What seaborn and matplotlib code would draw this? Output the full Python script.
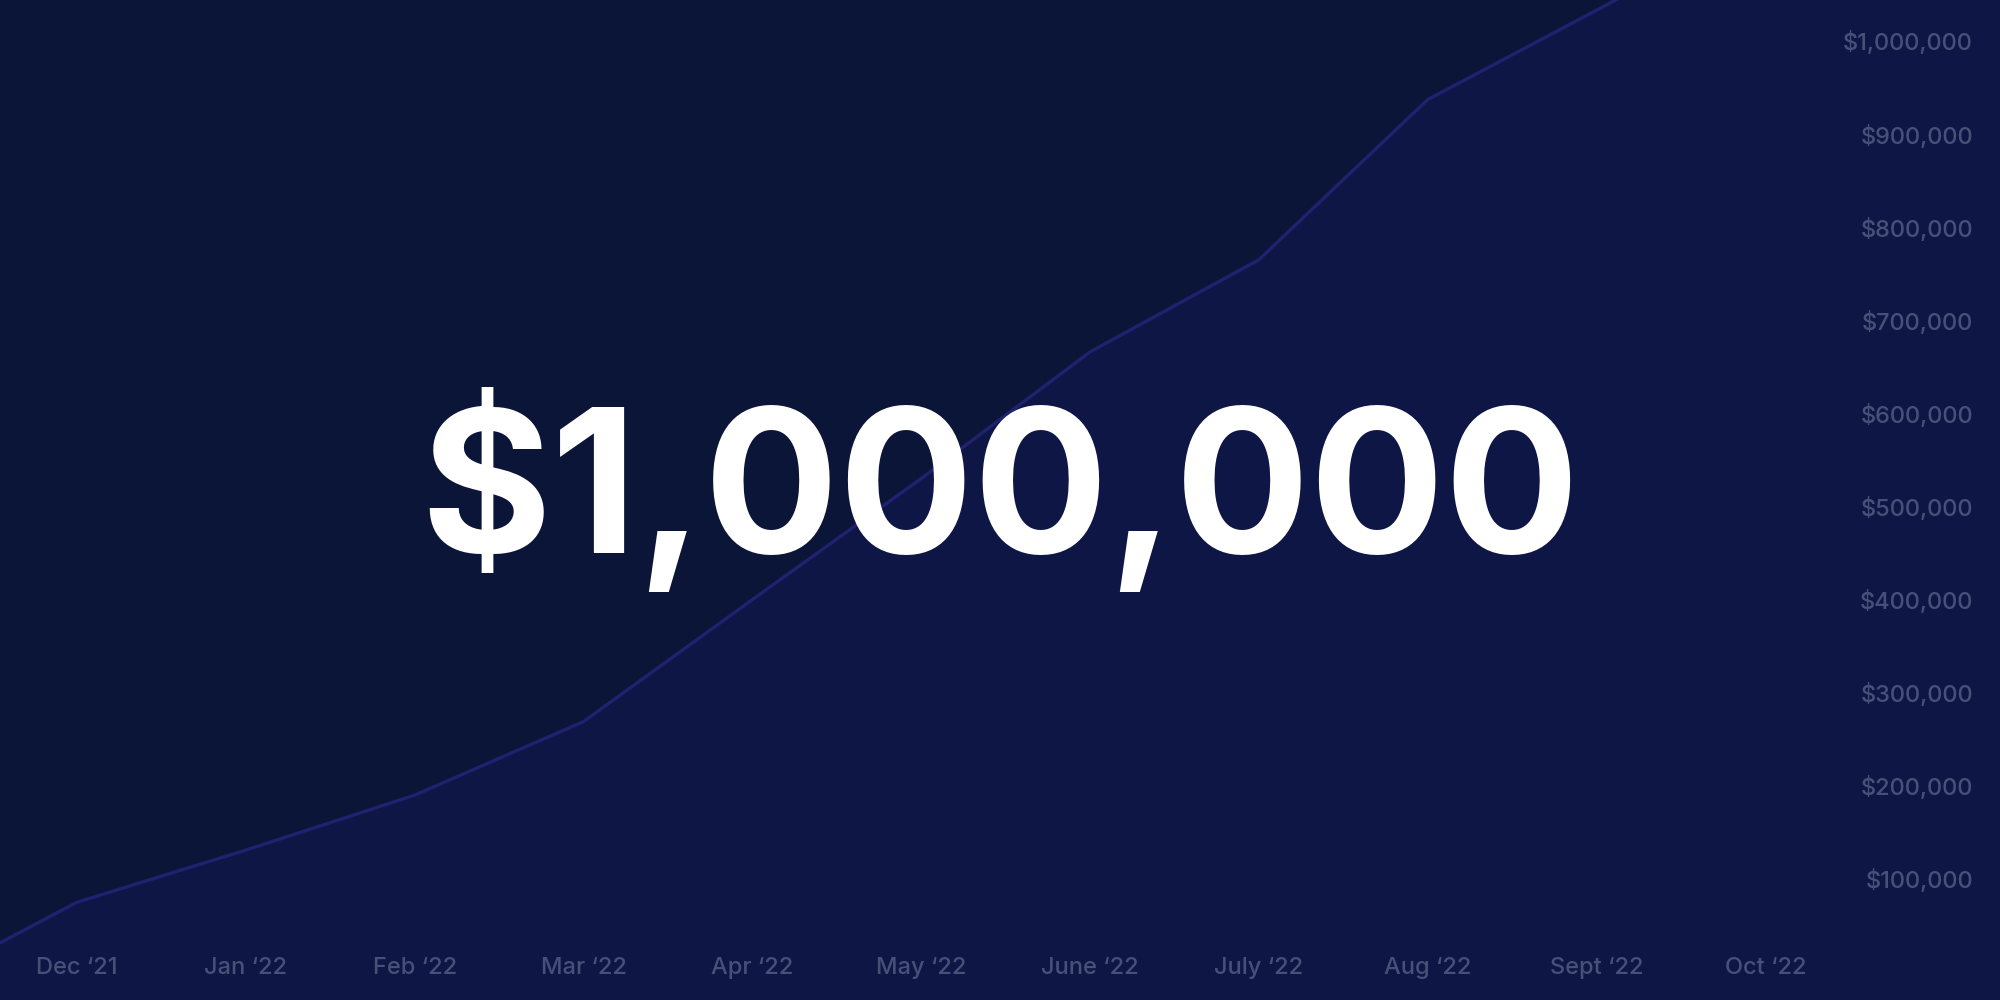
import matplotlib
matplotlib.use("Agg")
import matplotlib.pyplot as plt
import seaborn as sns
import pandas as pd

# month labels shown on the x axis (index 0 = Dec '21)
month_labels = ["Dec \u201821", "Jan \u201822", "Feb \u201822", "Mar \u201822", "Apr \u201822",
                "May \u201822", "June \u201822", "July \u201822", "Aug \u201822",
                "Sept \u201822", "Oct \u201822"]
month_ticks = list(range(len(month_labels)))

# cumulative revenue (first point sits at the left edge)
month_idx = [-0.46, 0, 1, 2, 3, 4, 5, 6, 7, 8, 9, 10, 11, 12]
revenue = [31000, 75000, 131000, 190000, 269000, 400000, 530000, 666000,
           765000, 937000, 1033000, 1130000, 1230000, 1330000]

y_ticks = [100000, 200000, 300000, 400000, 500000, 600000, 700000, 800000,
           900000, 1000000]
y_labels = [f"${v:,}" for v in y_ticks]

headline = "$1,000,000"

bg_top = "#0b1537"
bg_fill = "#0e1645"
line_col = "#20216f"
label_col = "#475178"

df = pd.DataFrame({"month": month_idx, "revenue": revenue})

sns.set_theme(style="dark")
plt.rcParams["font.family"] = ["Inter", "DejaVu Sans"]

fig = plt.figure(figsize=(20, 10), dpi=100, facecolor=bg_top)
ax = fig.add_axes([0, 0, 1, 1])
ax.set_facecolor(bg_top)
ax.set_axisbelow(False)

ax.fill_between(df["month"], df["revenue"], -1e6, color=bg_fill, lw=0, zorder=1)
sns.lineplot(data=df, x="month", y="revenue", ax=ax, color=line_col, lw=2.4,
             zorder=2, solid_joinstyle="round", solid_capstyle="round")

ax.set_xlim(-0.456, 11.39)
ax.set_ylim(-30000, 1044000)
ax.grid(False)
for s in ax.spines.values():
    s.set_visible(False)
ax.set_xlabel("")
ax.set_ylabel("")

ax.set_xticks(month_ticks, labels=month_labels, va="center", fontweight="medium")
ax.tick_params(axis="x", length=0, pad=-23, labelsize=17, labelcolor=label_col)

ax.yaxis.tick_right()
ax.set_yticks(y_ticks, labels=y_labels, ha="right", fontweight="medium")
ax.tick_params(axis="y", length=0, pad=-19.5, labelsize=17, labelcolor=label_col)

fig.text(0.5, 0.509, headline, ha="center", va="center", color="white",
         fontsize=144, fontweight="bold", zorder=5)

fig.savefig("out.png", dpi=100, facecolor=bg_top)
